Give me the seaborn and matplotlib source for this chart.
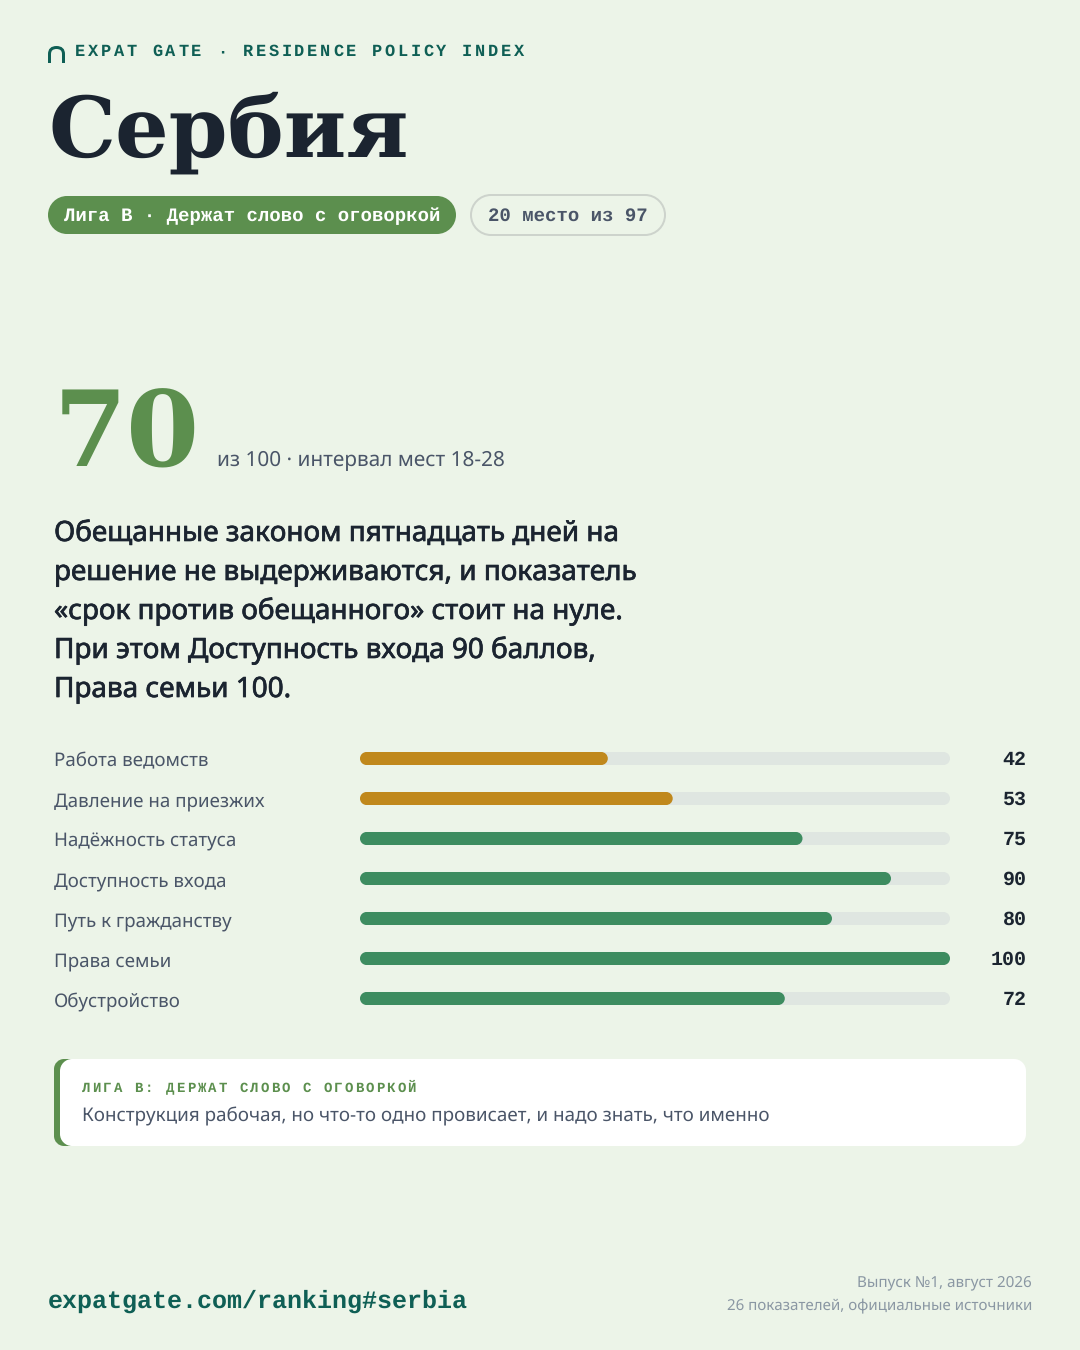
import matplotlib
matplotlib.use("Agg")
import matplotlib.pyplot as plt
from matplotlib.patches import PathPatch
from matplotlib.path import Path
import matplotlib.patheffects as pe
import seaborn as sns
import pandas as pd

labels = ["Работа ведомств", "Давление на приезжих", "Надёжность статуса", "Доступность входа",
          "Путь к гражданству", "Права семьи", "Обустройство"]
values = [42, 53, 75, 90, 80, 100, 72]
track = [100, 100, 100, 100, 100, 100, 100]
AMBER, GREEN = "#C0881C", "#3D8C60"
bar_colors = [AMBER, AMBER, GREEN, GREEN, GREEN, GREEN, GREEN]

title = "Сербия"
kicker = "EXPAT GATE · RESIDENCE POLICY INDEX"
league = "Лига B · Держат слово с оговоркой"
rank = "20 место из 97"
score = "70"
score_note = "из 100 · интервал мест 18-28"
lede = ["Обещанные законом пятнадцать дней на", "решение не выдерживаются, и показатель",
        "«срок против обещанного» стоит на нуле.", "При этом Доступность входа 90 баллов,",
        "Права семьи 100."]
call_head = "ЛИГА B: ДЕРЖАТ СЛОВО С ОГОВОРКОЙ"
call_body = "Конструкция рабочая, но что-то одно провисает, и надо знать, что именно"
url = "expatgate.com/ranking#serbia"
foot = ["Выпуск №1, август 2026", "26 показателей, официальные источники"]

BG, INK, TEAL, LG, SLATE = "#ECF4E8", "#1B2430", "#0F5F55", "#5C8F4E", "#4A5568"
SANS, MONO, SERIF = "Noto Sans", "Liberation Mono", "DejaVu Serif"
px = lambda p: p * 0.72

sns.set_theme(style="white")
plt.rcParams["text.hinting"] = "none"
fig = plt.figure(figsize=(10.8, 13.5), dpi=100, facecolor=BG)
ov = fig.add_axes([0, 0, 1, 1]); ov.set_xlim(0, 1080); ov.set_ylim(1350, 0); ov.axis("off")


def T(x, y, s, size, color=INK, family=SANS, weight="normal", ha="left", stroke=0):
    t = ov.text(x, y, s, fontsize=px(size), color=color, family=family, weight=weight, ha=ha, va="baseline")
    if stroke:
        t.set_path_effects([pe.withStroke(linewidth=stroke, foreground=color)])
    return t


def spaced(x, y, s, size, pitch, color):
    for i, c in enumerate(s):
        if c != " ":
            T(x + i * pitch, y, c, size, color, MONO, "bold")


def rounded(x0, y0, x1, y1, rx, ry):
    k = 0.5523
    v = [(x0 + rx, y0), (x1 - rx, y0),
         (x1 - rx + k * rx, y0), (x1, y0 + ry - k * ry), (x1, y0 + ry),
         (x1, y1 - ry),
         (x1, y1 - ry + k * ry), (x1 - rx + k * rx, y1), (x1 - rx, y1),
         (x0 + rx, y1),
         (x0 + rx - k * rx, y1), (x0, y1 - ry + k * ry), (x0, y1 - ry),
         (x0, y0 + ry),
         (x0, y0 + ry - k * ry), (x0 + rx - k * rx, y0), (x0 + rx, y0),
         (x0 + rx, y0)]
    c = [1, 2, 4, 4, 4, 2, 4, 4, 4, 2, 4, 4, 4, 2, 4, 4, 4, 79]
    return Path(v, c)


def pill(x0, y0, x1, y1, r, fc, ec="none", lw=0):
    ov.add_patch(PathPatch(rounded(x0, y0, x1, y1, r, r), fc=fc, ec=ec, lw=lw))


# arch icon
ov.add_patch(PathPatch(Path([(49.5, 63), (49.5, 54), (49.5, 47.5), (56.5, 47.5), (63.5, 47.5), (63.5, 54), (63.5, 63)],
                            [1, 2, 3, 3, 3, 3, 2]), fc="none", ec=TEAL, lw=px(3), capstyle="butt"))
spaced(75, 56, kicker, 17, 12.9, TEAL)
T(48, 157, title, 84.3, INK, SERIF, "bold")

pill(48, 196, 456, 234, 19, LG)
T(64, 221, league, 19, "white", MONO, "bold")
pill(471, 195, 665, 235, 20, "none", "#CDD3CC", px(2))
T(488, 221, rank, 19, SLATE, MONO, "bold")

T(54, 467, score, 105, LG, SERIF, "bold")
T(217, 466, score_note, 20.8, SLATE)
for i, line in enumerate(lede):
    T(54, 541 + 39 * i, line, 27.9, INK, SANS, "normal", stroke=0.5)

# bars: axes spans x 360..950 px and y 738.5..1018.5 px
ax = fig.add_axes([360 / 1080, 1 - 1018.5 / 1350, 590 / 1080, 280 / 1350])
ax.patch.set_alpha(0)
df = pd.DataFrame({"label": labels, "value": values, "track": track})
sns.barplot(data=df, x="track", y="label", color="#DFE6E1", width=13 / 40, saturation=1, ax=ax)
n_track = len(ax.patches)
sns.barplot(data=df, x="value", y="label", hue="label", palette=bar_colors, width=13 / 40,
            saturation=1, legend=False, dodge=False, ax=ax)
ax.set_xlim(0, 100); ax.set_ylim(6.5, -0.5)
ax.set_xlabel(""); ax.set_ylabel(""); ax.set_xticks([])
sns.despine(ax=ax, left=True, bottom=True)
rx, ry = 6.5 / 5.9, 6.5 / 40
for i, b in enumerate(list(ax.patches)):
    x, y, w, h = b.get_x(), b.get_y(), b.get_width(), b.get_height()
    fc = b.get_facecolor()
    b.remove()
    ax.add_patch(PathPatch(rounded(x, y, x + w, y + h, rx, ry), fc=fc, ec="none",
                           zorder=2 + (i >= n_track), clip_on=False))
ax.tick_params(axis="y", length=0, pad=px(306))
ax.set_yticks(range(len(labels)), labels, ha="left", fontsize=px(18.75), color=SLATE, family=SANS, va="center_baseline")
for tl in ax.get_yticklabels():
    tl.set_transform(tl.get_transform() + matplotlib.transforms.Affine2D().translate(0, -1))
for i, v in enumerate(values):
    ax.annotate(str(v), xy=(100, i), xytext=(px(76.5), px(-6.5)), textcoords="offset points", ha="right", va="baseline",
                fontsize=px(20), family=MONO, weight="bold", color=INK)

# callout
pill(54, 1059, 90, 1146, 10, LG)
pill(60, 1059, 1026, 1146, 12, "white")
spaced(82, 1092, call_head, 14, 10.5, LG)
T(82, 1121, call_body, 18.85, SLATE)

T(48, 1308, url, 25, TEAL, MONO, "bold")
T(1032, 1286, foot[0], 15.2, "#8A97A3", ha="right")
T(1032, 1310, foot[1], 15.1, "#8A97A3", ha="right")

fig.savefig("out.png", dpi=100, facecolor=BG)
